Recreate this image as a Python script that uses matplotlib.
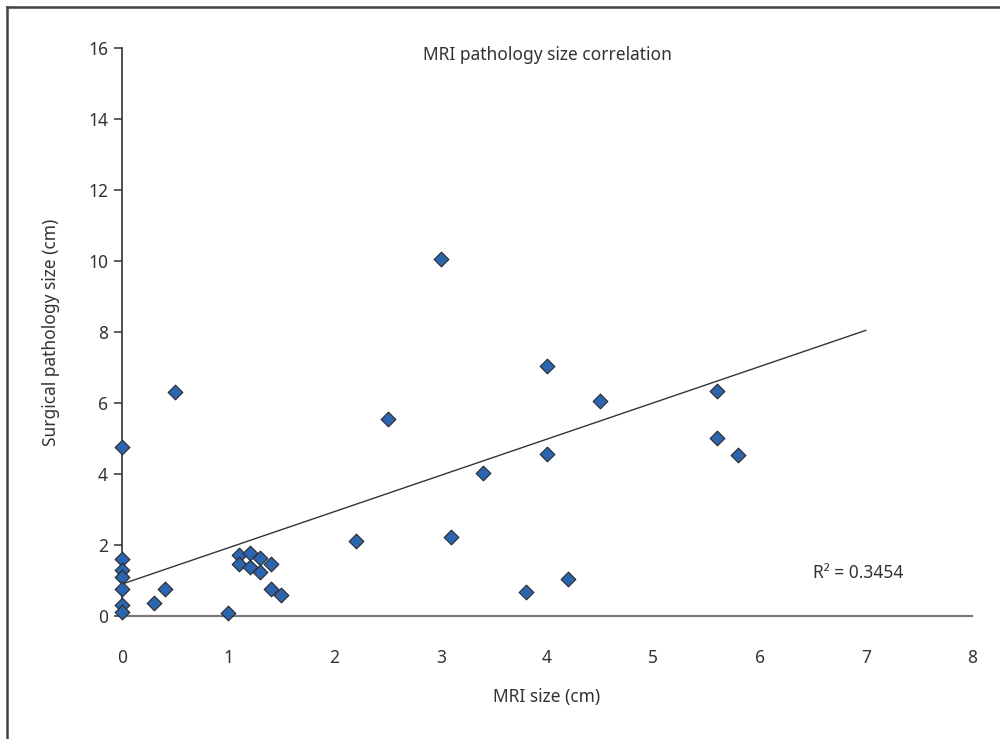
import matplotlib
matplotlib.use("Agg")
import matplotlib.pyplot as plt
from matplotlib.lines import Line2D

plt.rcParams['font.family'] = ['Noto Sans', 'DejaVu Sans']

# MRI size (cm) vs surgical pathology size (cm)
mri_size = [0, 0, 0, 0, 0, 0, 0, 0.3, 0.4, 0.5,
            1.0, 1.1, 1.2, 1.3, 1.1, 1.2, 1.4, 1.3, 1.4, 1.5,
            2.2, 2.5, 3.0, 3.1, 3.4, 3.8, 4.0, 4.0, 4.2, 4.5,
            5.6, 5.6, 5.8]
path_size = [4.75, 1.6, 1.3, 1.1, 0.75, 0.3, 0.1, 0.37, 0.76, 6.32,
             0.08, 1.72, 1.77, 1.63, 1.46, 1.39, 1.46, 1.25, 0.75, 0.59,
             2.12, 5.54, 10.05, 2.23, 4.04, 0.67, 7.05, 4.56, 1.05, 6.07,
             6.35, 5.02, 4.55]

# trendline as drawn in the original (x from 0 to 7)
trend_x = [0, 7]
trend_intercept = 0.9
trend_slope = 1.021
r2_text = "R\u00b2 = 0.3454"

xticks = list(range(0, 9))
yticks = list(range(0, 17, 2))

dark = '#333333'

fig = plt.figure(figsize=(10, 7.39), dpi=100)
ax = fig.add_axes([0.122, 0.1664, 0.85, 0.7686])

ax.plot(trend_x, [trend_intercept + trend_slope * x for x in trend_x],
        color=dark, lw=1, zorder=2)
ax.scatter(mri_size, path_size, marker='D', s=56, color='#2c64ae',
           edgecolor='#2a2a2a', linewidth=0.8, zorder=3, clip_on=False)

ax.set_xlim(0, 8)
ax.set_ylim(0, 16)
ax.set_xticks(xticks)
ax.set_yticks(yticks)

for s in ['top', 'right']:
    ax.spines[s].set_visible(False)
ax.spines['left'].set_color(dark)
ax.spines['left'].set_linewidth(1.2)
ax.spines['bottom'].set_color('#7a7a7a')
ax.spines['bottom'].set_linewidth(1.6)

ax.tick_params(axis='x', length=0, pad=24, labelsize=12.5, labelcolor=dark)
ax.tick_params(axis='y', length=6, width=1.1, color=dark, pad=4,
               labelsize=12.5, labelcolor=dark, direction='out')

ax.text(0.5, 0.988, "MRI pathology size correlation", transform=ax.transAxes,
        ha='center', va='center', fontsize=12.5, color=dark)
ax.text(6.5, 1.2, r2_text, ha='left', va='center', fontsize=12.5, color=dark)

ax.set_xlabel("MRI size (cm)", fontsize=12.5, color=dark, va='center')
ax.xaxis.set_label_coords(0.5, -0.1426)
ax.set_ylabel("Surgical pathology size (cm)", fontsize=12.5, color=dark,
              va='center')
ax.yaxis.set_label_coords(-0.083, 0.5)

# outer frame (cut at right and bottom in the original)
fig.add_artist(Line2D([0.007, 0.007], [0, 1 - 7 / 739], transform=fig.transFigure,
                      color='#444444', lw=1.8))
fig.add_artist(Line2D([0.007, 1.0], [1 - 7 / 739, 1 - 7 / 739],
                      transform=fig.transFigure, color='#444444', lw=1.8))

fig.savefig("out.png", dpi=100)
